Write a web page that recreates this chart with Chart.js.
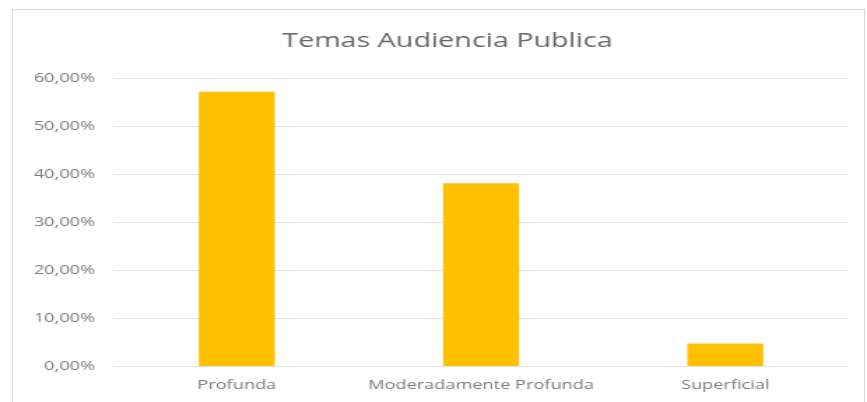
<!DOCTYPE html>
<html>
<head>
<meta charset="utf-8">
<script src="https://cdn.jsdelivr.net/npm/chart.js@4.4.0/dist/chart.umd.min.js"></script>
<style>
  body { margin: 0; background: #fff; }
  #frame { position: absolute; left: 12px; top: 9px; width: 851px; height: 420px; border: 1px solid #d9d9d9; }
  /* the reference is stretched horizontally, so draw narrow and scale x */
  #wrap { position: absolute; left: 0; top: 0; width: 620px; height: 402px; transform: scaleX(1.3984); transform-origin: 0 0; }
</style>
</head>
<body>
<div id="frame"></div>
<div id="wrap"><canvas id="chart"></canvas></div>
<script>
// chart data
const categories = ['Profunda', 'Moderadamente Profunda', 'Superficial'];
const values = [0.5714, 0.3810, 0.0476];
const yTicks = [0, 0.1, 0.2, 0.3, 0.4, 0.5, 0.6];

const fmtPct = v => (v * 100).toFixed(2).replace('.', ',') + '%';

// title sits a bit right of the canvas centre in the reference
const shiftTitle = {
  id: 'shiftTitle',
  afterLayout(chart) {
    const t = chart.titleBlock;
    if (t) { t.left += 17; t.right += 17; }
  }
};

const ctx = document.getElementById('chart').getContext('2d');
new Chart(ctx, {
  type: 'bar',
  data: {
    labels: categories,
    datasets: [{
      data: values,
      backgroundColor: '#FFC000',
      borderWidth: 0,
      barPercentage: 0.311,
      categoryPercentage: 1
    }]
  },
  options: {
    responsive: true,
    maintainAspectRatio: false,
    animation: false,
    layout: { padding: { top: 0, right: 14, bottom: -2, left: 0 } },
    plugins: {
      legend: { display: false },
      tooltip: { enabled: false },
      title: {
        display: true,
        text: 'Temas Audiencia Publica',
        color: '#666',
        font: { family: 'Open Sans', size: 20.5, weight: 'normal' },
        padding: { top: 29, bottom: 24.4 }
      }
    },
    scales: {
      x: {
        grid: { display: false, drawTicks: false, tickLength: 0 },
        border: { display: false },
        ticks: {
          color: '#7a7a7a',
          font: { family: 'Open Sans', size: 13 },
          padding: 11,
          maxRotation: 0,
          minRotation: 0,
          autoSkip: false
        }
      },
      y: {
        min: 0,
        max: 0.6,
        afterBuildTicks: axis => { axis.ticks = yTicks.map(v => ({ value: v })); },
        afterFit: axis => { axis.width = 82; },
        grid: { color: '#e3e3e3', drawTicks: false },
        border: { display: false },
        ticks: {
          color: '#7a7a7a',
          font: { family: 'Open Sans', size: 13 },
          padding: 14,
          callback: v => fmtPct(v)
        }
      }
    }
  },
  plugins: [shiftTitle]
});
</script>
</body>
</html>
